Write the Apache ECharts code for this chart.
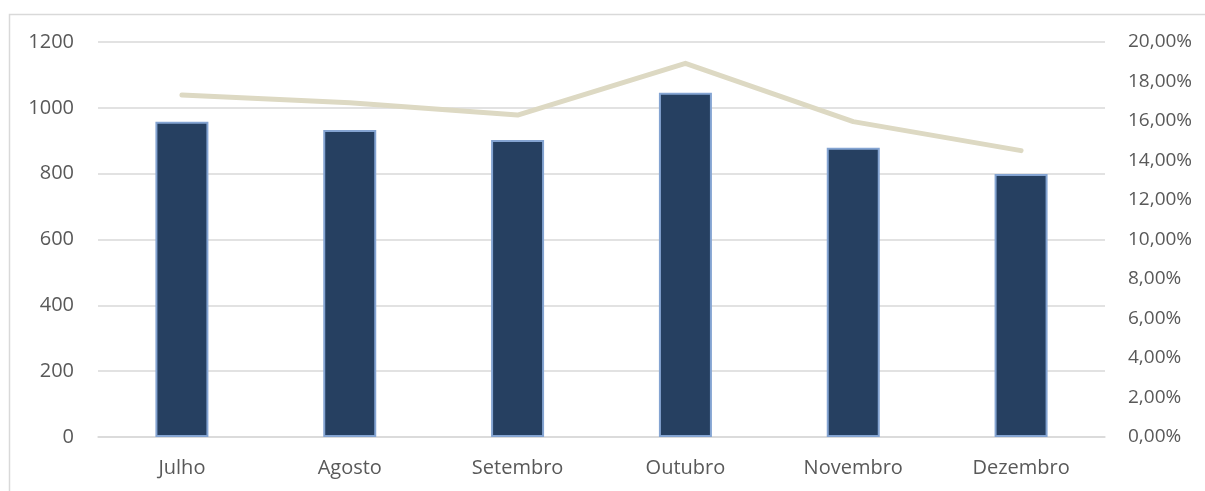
<!DOCTYPE html>
<html>
<head>
<meta charset="utf-8">
<script src="https://cdn.jsdelivr.net/npm/echarts@6/dist/echarts.min.js"></script>
<style>
html,body{margin:0;padding:0;background:#fff;}
#chart{width:1205px;height:491px;}
</style>
</head>
<body>
<div id="chart"></div>
<script>
const categories = ['Julho', 'Agosto', 'Setembro', 'Outubro', 'Novembro', 'Dezembro'];
const barValues = [958, 933, 902, 1046, 879, 799];
const lineValues = [0.1732, 0.1693, 0.1630, 0.1892, 0.1597, 0.1450];

const chart = echarts.init(document.getElementById('chart'), null, {renderer: 'canvas'});
const textColor = '#595959';
const fontFamily = '"Open Sans", sans-serif';
chart.setOption({
  animation: false,
  backgroundColor: '#fff',
  graphic: [{
    type: 'rect',
    shape: {x: 9.5, y: 14.5, width: 1400, height: 700},
    style: {fill: 'none', stroke: '#d9d9d9', lineWidth: 1.5},
    silent: true
  }],
  grid: {left: 98, right: 100, top: 42, bottom: 54},
  xAxis: {
    type: 'category',
    data: categories,
    axisLine: {show: true, lineStyle: {color: '#d9d9d9', width: 1.5}},
    axisTick: {show: false},
    axisLabel: {color: textColor, fontSize: 20, fontFamily: fontFamily, margin: 21}
  },
  yAxis: [{
    type: 'value',
    min: 0, max: 1200, interval: 200,
    axisLine: {show: false},
    axisTick: {show: false},
    splitLine: {lineStyle: {color: '#d9d9d9', width: 1.5}},
    axisLabel: {color: textColor, fontSize: 20, fontFamily: fontFamily, margin: 24,
      formatter: v => String(v)}
  }, {
    type: 'value',
    min: 0, max: 0.2, interval: 0.02,
    axisLine: {show: false},
    axisTick: {show: false},
    splitLine: {show: false},
    axisLabel: {
      color: textColor, fontSize: 19, fontFamily: fontFamily, margin: 23,
      formatter: v => (v * 100).toFixed(2).replace('.', ',') + '%'
    }
  }],
  series: [{
    type: 'bar',
    data: barValues,
    yAxisIndex: 0,
    barWidth: 53,
    itemStyle: {color: '#264061', borderColor: '#84a4d2', borderWidth: 2}
  }, {
    type: 'line',
    data: lineValues,
    yAxisIndex: 1,
    showSymbol: false,
    symbol: 'none',
    lineStyle: {color: '#ddd9c3', width: 5, cap: 'round', join: 'round'}
  }]
});
</script>
</body>
</html>
